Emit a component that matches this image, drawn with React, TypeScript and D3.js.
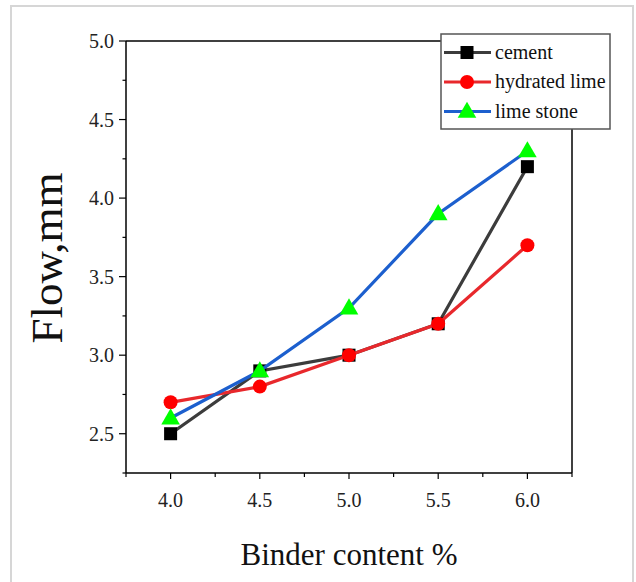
import React from "react";
import * as d3 from "d3";

const binder = [4.0, 4.5, 5.0, 5.5, 6.0];
const cement = [2.5, 2.9, 3.0, 3.2, 4.2];
const hydratedLime = [2.7, 2.8, 3.0, 3.2, 3.7];
const limeStone = [2.6, 2.9, 3.3, 3.9, 4.3];
const xTicks = [4.0, 4.5, 5.0, 5.5, 6.0];
const xMinor = [3.75, 4.25, 4.75, 5.25, 5.75, 6.25];
const yTicks = [2.5, 3.0, 3.5, 4.0, 4.5, 5.0];
const yMinor = [2.25, 2.75, 3.25, 3.75, 4.25, 4.75];
const seriesNames = ["cement", "hydrated lime", "lime stone"];

const FONT = "'Liberation Serif', 'Times New Roman', serif";

export default function App() {
  const x = d3.scaleLinear().domain([3.75, 6.25]).range([126, 572]);
  const y = d3.scaleLinear().domain([2.25, 5.0]).range([473, 41]);
  const line = d3
    .line<[number, number]>()
    .x((d) => x(d[0]))
    .y((d) => y(d[1]));

  const series = [
    { name: seriesNames[0], values: cement, line: "#3c3c3c", fill: "#000000", shape: "square" },
    { name: seriesNames[1], values: hydratedLime, line: "#e8282c", fill: "#ff0000", shape: "circle" },
    { name: seriesNames[2], values: limeStone, line: "#1c5fce", fill: "#00ff00", shape: "triangle" },
  ];

  const marker = (shape: string, cx: number, cy: number, fill: string, key?: any) => {
    if (shape === "square")
      return <rect key={key} x={cx - 6.5} y={cy - 6.5} width={13} height={13} fill={fill} />;
    if (shape === "circle") return <circle key={key} cx={cx} cy={cy} r={7} fill={fill} />;
    const tri = d3.symbol(d3.symbolTriangle, 150)();
    return <path key={key} d={tri || ""} transform={`translate(${cx},${cy + 1})`} fill={fill} />;
  };

  const legendX = 441;
  const legendY = 34;
  const legendRows = [52.5, 82, 111.5];

  return (
    <svg
      width={636}
      height={582}
      style={{ position: "absolute", left: 0, top: 0, background: "#fff" }}
    >
      {/* outer frame */}
      <path d="M11,590 L11,6 L633,6 L633,590" fill="none" stroke="#d6d6d6" strokeWidth={2} />

      {/* axes */}
      <g stroke="#000" strokeWidth={1.5} fill="none">
        <line x1={126} y1={41} x2={572} y2={41} />
        <line x1={572} y1={41} x2={572} y2={473} />
        <line x1={126} y1={41} x2={126} y2={473} />
        <line x1={126} y1={473} x2={572} y2={473} />
      </g>
      <g stroke="#000" strokeWidth={1.2}>
        {xTicks.map((t) => (
          <line key={"xt" + t} x1={x(t)} x2={x(t)} y1={473} y2={479} />
        ))}
        {xMinor.map((t) => (
          <line key={"xm" + t} x1={x(t)} x2={x(t)} y1={473} y2={477} />
        ))}
        {yTicks.map((t) => (
          <line key={"yt" + t} x1={126} x2={119} y1={y(t)} y2={y(t)} />
        ))}
        {yMinor.map((t) => (
          <line key={"ym" + t} x1={126} x2={122.5} y1={y(t)} y2={y(t)} />
        ))}
      </g>
      <g fontFamily={FONT} fontSize={20} fill="#222">
        {xTicks.map((t) => (
          <text key={"xl" + t} x={x(t)} y={507} textAnchor="middle">
            {d3.format(".1f")(t)}
          </text>
        ))}
        {yTicks.map((t) => (
          <text key={"yl" + t} x={114} y={y(t) + 7} textAnchor="end">
            {d3.format(".1f")(t)}
          </text>
        ))}
      </g>

      {/* axis titles */}
      <text
        x={349}
        y={565}
        textAnchor="middle"
        fontFamily={FONT}
        fontSize={31}
        fill="#111"
      >
        Binder content %
      </text>
      <text
        transform="translate(62,258) rotate(-90)"
        textAnchor="middle"
        fontFamily={FONT}
        fontSize={45}
        fill="#111"
      >
        Flow,mm
      </text>

      {/* series */}
      {series.map((s) => (
        <g key={s.name}>
          <path
            d={line(binder.map((b, i) => [b, s.values[i]] as [number, number])) || ""}
            fill="none"
            stroke={s.line}
            strokeWidth={3.2}
          />
          {binder.map((b, i) => marker(s.shape, x(b), y(s.values[i]), s.fill, i))}
        </g>
      ))}

      {/* legend */}
      <rect
        x={legendX}
        y={legendY}
        width={169}
        height={95}
        fill="#fff"
        stroke="#555"
        strokeWidth={1.5}
      />
      {series.map((s, i) => (
        <g key={"lg" + s.name}>
          <line x1={444} x2={491} y1={legendRows[i]} y2={legendRows[i]} stroke={s.line} strokeWidth={3.2} />
          {marker(s.shape, 467, legendRows[i], s.fill)}
          <text x={495} y={legendRows[i] + 6} fontFamily={FONT} fontSize={20} fill="#111">
            {s.name}
          </text>
        </g>
      ))}
    </svg>
  );
}
